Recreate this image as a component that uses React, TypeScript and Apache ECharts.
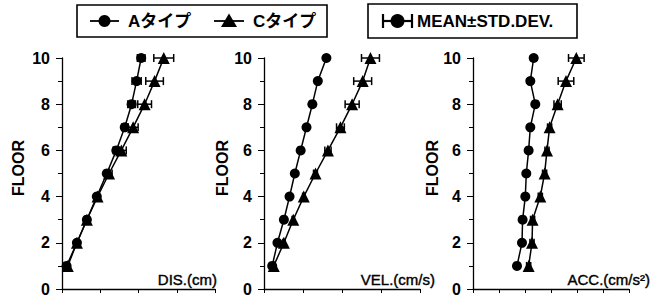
import React, { useEffect, useRef } from "react";
import * as echarts from "echarts";

const floors = [1, 2, 3, 4, 5, 6, 7, 8, 9, 10];
const seriesNames = ["Aタイプ", "Cタイプ"];
const legendNote = "MEAN±STD.DEV.";
const axisTitles = ["DIS.(cm)", "VEL.(cm/s)", "ACC.(cm/s²)"];
const yAxisTitle = "FLOOR";

// DIS (cm)
const disA = [0.6, 1.95, 3.25, 4.55, 5.85, 7.1, 8.2, 9.1, 9.75, 10.35];
const disASd = [0.2, 0.2, 0.2, 0.2, 0.3, 0.4, 0.4, 0.5, 0.6, 0.5];
const disC = [0.75, 1.95, 3.25, 4.65, 6.15, 7.75, 9.3, 10.8, 12.1, 13.3];
const disCSd = [0.2, 0.2, 0.2, 0.2, 0.4, 0.65, 0.65, 0.9, 1.15, 1.3];
// VEL (cm/s)
const velA = [2.1, 3.45, 5.1, 6.55, 7.9, 9.4, 10.9, 12.4, 13.8, 16.0];
const velASd = [0.3, 0.3, 0.3, 0.3, 0.3, 0.3, 0.3, 0.3, 0.3, 0.3];
const velC = [2.5, 5.1, 7.5, 10.2, 13.2, 16.4, 19.6, 22.6, 25.3, 27.3];
const velCSd = [0.3, 0.3, 0.3, 0.3, 0.5, 0.8, 1.0, 1.8, 2.3, 2.3];
// ACC (cm/s2)
const accA = [84.6, 94.2, 95.4, 100.6, 102.5, 107, 110.2, 119.8, 110.2, 116.7];
const accASd = [3, 3, 3, 3, 3, 3, 3, 3, 3, 3];
const accC = [107, 113.5, 114.6, 129.4, 137.7, 142.3, 147.3, 162.7, 178.8, 198.7];
const accCSd = [4, 4, 4, 4, 4, 4, 4, 7, 15, 15];

const xMax = [20, 40, 300];
const xInterval = [5, 10, 50];

const FONT = "'Liberation Sans', Arial, 'Noto Sans CJK JP', sans-serif";

export default function App() {
  const ref = useRef<HTMLDivElement>(null);
  useEffect(() => {
    if (!ref.current) return;
    const chart = echarts.init(ref.current, undefined, { renderer: "svg" });

    const panels = [
      { a: disA, aSd: disASd, c: disC, cSd: disCSd },
      { a: velA, aSd: velASd, c: velC, cSd: velCSd },
      { a: accA, aSd: accASd, c: accC, cSd: accCSd },
    ];
    const grids = [
      { left: 62, top: 58, width: 153, height: 231 },
      { left: 264, top: 58, width: 156, height: 231 },
      { left: 473, top: 58, width: 156, height: 231 },
    ];

    const errRender = (params: any, api: any) => {
      const lo = api.coord([api.value(0), api.value(2)]);
      const hi = api.coord([api.value(1), api.value(2)]);
      const h = 4;
      const st = { stroke: "#000", lineWidth: 1.5 };
      return {
        type: "group",
        children: [
          { type: "line", shape: { x1: lo[0], y1: lo[1], x2: hi[0], y2: hi[1] }, style: st },
          { type: "line", shape: { x1: lo[0], y1: lo[1] - h, x2: lo[0], y2: lo[1] + h }, style: st },
          { type: "line", shape: { x1: hi[0], y1: hi[1] - h, x2: hi[0], y2: hi[1] + h }, style: st },
        ],
      };
    };

    const series: any[] = [];
    panels.forEach((p, i) => {
      series.push({
        type: "custom",
        xAxisIndex: i,
        yAxisIndex: i,
        renderItem: errRender,
        encode: { x: [0, 1], y: 2 },
        data: floors.map((f, k) => [p.a[k] - p.aSd[k], p.a[k] + p.aSd[k], f]),
        z: 1,
      });
      series.push({
        type: "custom",
        xAxisIndex: i,
        yAxisIndex: i,
        renderItem: errRender,
        encode: { x: [0, 1], y: 2 },
        data: floors.map((f, k) => [p.c[k] - p.cSd[k], p.c[k] + p.cSd[k], f]),
        z: 1,
      });
      series.push({
        name: seriesNames[0],
        type: "line",
        xAxisIndex: i,
        yAxisIndex: i,
        data: floors.map((f, k) => [p.a[k], f]),
        symbol: "circle",
        symbolSize: 10,
        lineStyle: { color: "#000", width: 1.5 },
        itemStyle: { color: "#000" },
        z: 3,
      });
      series.push({
        name: seriesNames[1],
        type: "line",
        xAxisIndex: i,
        yAxisIndex: i,
        data: floors.map((f, k) => [p.c[k], f]),
        symbol: "triangle",
        symbolSize: 12,
        lineStyle: { color: "#000", width: 1.5 },
        itemStyle: { color: "#000" },
        z: 3,
      });
    });

    const graphic: any[] = [];
    // Legend box 1
    graphic.push({ type: "rect", shape: { x: 77, y: 5, width: 250, height: 32 }, style: { fill: "none", stroke: "#000", lineWidth: 1.6 } });
    graphic.push({ type: "line", shape: { x1: 90, y1: 21, x2: 119, y2: 21 }, style: { stroke: "#000", lineWidth: 1.8 } });
    graphic.push({ type: "circle", shape: { cx: 104.5, cy: 21, r: 6 }, style: { fill: "#000" } });
    graphic.push({ type: "text", x: 128, y: 21, style: { text: seriesNames[0], font: `bold 17px ${FONT}`, fill: "#000", verticalAlign: "middle" } });
    graphic.push({ type: "line", shape: { x1: 214, y1: 21, x2: 244, y2: 21 }, style: { stroke: "#000", lineWidth: 1.8 } });
    graphic.push({ type: "polygon", shape: { points: [[229, 13.5], [237, 27], [221, 27]] }, style: { fill: "#000" } });
    graphic.push({ type: "text", x: 253, y: 21, style: { text: seriesNames[1], font: `bold 17px ${FONT}`, fill: "#000", verticalAlign: "middle" } });
    // Legend box 2
    graphic.push({ type: "rect", shape: { x: 368, y: 4, width: 209, height: 34 }, style: { fill: "none", stroke: "#000", lineWidth: 1.6 } });
    graphic.push({ type: "line", shape: { x1: 383, y1: 21, x2: 412, y2: 21 }, style: { stroke: "#000", lineWidth: 2.2 } });
    graphic.push({ type: "line", shape: { x1: 383, y1: 14, x2: 383, y2: 28 }, style: { stroke: "#000", lineWidth: 2.2 } });
    graphic.push({ type: "line", shape: { x1: 412, y1: 14, x2: 412, y2: 28 }, style: { stroke: "#000", lineWidth: 2.2 } });
    graphic.push({ type: "circle", shape: { cx: 397.5, cy: 21, r: 7 }, style: { fill: "#000" } });
    graphic.push({ type: "text", x: 417, y: 21, style: { text: legendNote, font: `bold 17px ${FONT}`, fill: "#000", verticalAlign: "middle" } });

    const floorX = [18, 222, 432];
    const titleRight = [217, 435, 650];
    grids.forEach((g, i) => {
      graphic.push({
        type: "text",
        x: floorX[i],
        y: 168,
        rotation: Math.PI / 2,
        style: { text: yAxisTitle, font: `bold 16px ${FONT}`, fill: "#000", align: "center", verticalAlign: "middle" },
      });
      graphic.push({
        type: "text",
        x: titleRight[i],
        y: 279,
        style: { text: axisTitles[i], font: `15px ${FONT}`, fill: "#000", align: "right", verticalAlign: "middle", stroke: "#000", lineWidth: 0.4 },
      });
    });

    chart.setOption({
      animation: false,
      grid: grids.map((g) => ({ ...g })),
      xAxis: grids.map((g, i) => ({
        type: "value",
        gridIndex: i,
        min: 0,
        max: xMax[i],
        interval: xInterval[i],
        axisLine: { show: true, lineStyle: { color: "#000", width: 1.3 } },
        axisTick: { show: true, inside: false, length: 4, lineStyle: { color: "#000" } },
        axisLabel: { show: false },
        splitLine: { show: false },
      })),
      yAxis: grids.map((g, i) => ({
        type: "value",
        gridIndex: i,
        min: 0,
        max: 10,
        interval: 2,
        axisLine: { show: true, onZero: false, lineStyle: { color: "#000", width: 1.3 } },
        axisTick: { show: true, inside: false, length: 6, lineStyle: { color: "#000" } },
        minorTick: { show: true, splitNumber: 2, length: 4, lineStyle: { color: "#000" } },
        axisLabel: { show: true, margin: 12, color: "#000", fontSize: 16, fontWeight: "bold", fontFamily: FONT },
        splitLine: { show: false },
      })),
      series,
      graphic,
    });
    return () => chart.dispose();
  }, []);
  return <div ref={ref} style={{ width: 658, height: 298, position: "absolute", left: 0, top: 0 }} />;
}
